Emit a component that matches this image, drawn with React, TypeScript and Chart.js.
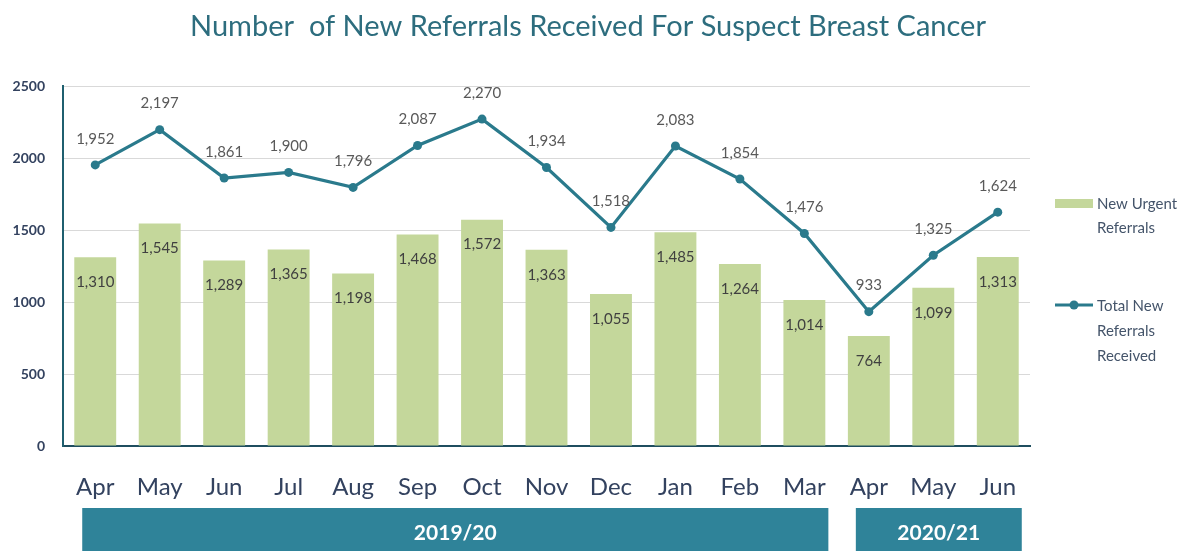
import React, { useEffect, useRef } from "react";
import { Chart, registerables } from "chart.js";

Chart.register(...registerables);

const months = ["Apr", "May", "Jun", "Jul", "Aug", "Sep", "Oct", "Nov", "Dec", "Jan", "Feb", "Mar", "Apr", "May", "Jun"];
const urgentReferrals = [1310, 1545, 1289, 1365, 1198, 1468, 1572, 1363, 1055, 1485, 1264, 1014, 764, 1099, 1313];
const totalReferrals = [1952, 2197, 1861, 1900, 1796, 2087, 2270, 1934, 1518, 2083, 1854, 1476, 933, 1325, 1624];
const yTicks = [0, 500, 1000, 1500, 2000, 2500];
const yearLabels = ["2019/20", "2020/21"];
const yearStartIndex = [0, 12];
const yearEndIndex = [11, 14];
const legendBarLabel = ["New Urgent", "Referrals"];
const legendLineLabel = ["Total New", "Referrals", "Received"];
const titleText = "Number  of New Referrals Received For Suspect Breast Cancer";

const BAR_COLOR = "#C4D79B";
const LINE_COLOR = "#2A7A8C";
const BAND_COLOR = "#2F8399";
const NAVY = "#33425F";
const FONT = "Lato, 'Open Sans', sans-serif";

const fmt = (v: number) => v.toLocaleString("en-US");

const overlayPlugin = {
  id: "overlay",
  afterDatasetsDraw(chart: any) {
    const ctx = chart.ctx;
    const x = chart.scales.x;
    const y = chart.scales.y;
    ctx.save();
    ctx.font = `15px ${FONT}`;
    ctx.fillStyle = "#404040";
    ctx.textAlign = "center";
    ctx.textBaseline = "middle";
    urgentReferrals.forEach((v, i) => {
      ctx.fillText(fmt(v), x.getPixelForValue(i), y.getPixelForValue(v) + 25);
    });
    ctx.fillStyle = "#595959";
    totalReferrals.forEach((v, i) => {
      ctx.fillText(fmt(v), x.getPixelForValue(i), y.getPixelForValue(v) - 26);
    });
    ctx.restore();
  },
  afterDraw(chart: any) {
    const ctx = chart.ctx;
    const x = chart.scales.x;
    ctx.save();
    // title
    ctx.font = `29px ${FONT}`;
    ctx.fillStyle = "#2D6D7E";
    ctx.textAlign = "center";
    ctx.textBaseline = "middle";
    ctx.fillText(titleText, 588, 27);
    // year bands
    yearLabels.forEach((lab, k) => {
      const x0 = x.getPixelForValue(yearStartIndex[k]) - 13;
      const x1 = x.getPixelForValue(yearEndIndex[k]) + 24;
      ctx.fillStyle = BAND_COLOR;
      ctx.fillRect(x0, 508, x1 - x0, 60);
      ctx.fillStyle = "#FFFFFF";
      ctx.font = `bold 21px ${FONT}`;
      ctx.textAlign = "center";
      ctx.textBaseline = "middle";
      ctx.fillText(lab, (x0 + x1) / 2, 533);
    });
    // legend
    const lx = 1055;
    ctx.fillStyle = BAR_COLOR;
    ctx.fillRect(lx, 199, 38, 9);
    ctx.font = `15px ${FONT}`;
    ctx.fillStyle = "#44546A";
    ctx.textAlign = "left";
    ctx.textBaseline = "middle";
    legendBarLabel.forEach((t, i) => ctx.fillText(t, lx + 42, 204 + i * 24));
    ctx.strokeStyle = LINE_COLOR;
    ctx.lineWidth = 3;
    ctx.beginPath();
    ctx.moveTo(lx, 305);
    ctx.lineTo(lx + 38, 305);
    ctx.stroke();
    ctx.fillStyle = LINE_COLOR;
    ctx.beginPath();
    ctx.arc(lx + 19, 305, 4.5, 0, Math.PI * 2);
    ctx.fill();
    ctx.fillStyle = "#44546A";
    legendLineLabel.forEach((t, i) => ctx.fillText(t, lx + 42, 306 + i * 25));
    ctx.restore();
  },
};

export default function App() {
  const ref = useRef<HTMLCanvasElement | null>(null);
  useEffect(() => {
    if (!ref.current) return;
    const chart = new Chart(ref.current, {
      type: "bar",
      data: {
        labels: months,
        datasets: [
          {
            type: "line",
            label: "Total New Referrals Received",
            data: totalReferrals,
            borderColor: LINE_COLOR,
            backgroundColor: LINE_COLOR,
            borderWidth: 3.2,
            pointRadius: 4.5,
            pointBackgroundColor: LINE_COLOR,
            pointBorderWidth: 0,
            tension: 0,
            order: 0,
          } as any,
          {
            type: "bar",
            label: "New Urgent Referrals",
            data: urgentReferrals,
            backgroundColor: BAR_COLOR,
            categoryPercentage: 1,
            barPercentage: 0.65,
            order: 1,
          },
        ],
      },
      options: {
        animation: false,
        responsive: true,
        maintainAspectRatio: false,
        layout: { padding: { left: 0, right: 152, top: 86, bottom: 0 } },
        plugins: {
          legend: { display: false },
          tooltip: { enabled: false },
          title: { display: false },
        },
        scales: {
          x: {
            grid: { display: false, drawTicks: false },
            border: { display: true, color: "#1F4E5F", width: 2 },
            ticks: { color: NAVY, font: { family: FONT, size: 24 }, padding: 27 },
            afterFit: (s: any) => {
              s.height = 105;
            },
          },
          y: {
            min: 0,
            max: 2500,
            afterBuildTicks: (s: any) => {
              s.ticks = yTicks.map((v) => ({ value: v }));
            },
            grid: { color: "#D9D9D9", lineWidth: 1, drawTicks: false },
            border: { display: true, color: "#1F5F6F", width: 2 },
            ticks: {
              color: NAVY,
              font: { family: FONT, size: 14, weight: "bold" },
              padding: 18,
              callback: (v: any) => String(v),
            },
            afterFit: (s: any) => {
              s.width = 63;
            },
          },
        },
      },
      plugins: [overlayPlugin],
    });
    return () => chart.destroy();
  }, []);
  return (
    <div style={{ position: "fixed", left: 0, top: 0, width: 1182, height: 551, background: "#fff" }}>
      <canvas ref={ref} />
    </div>
  );
}
